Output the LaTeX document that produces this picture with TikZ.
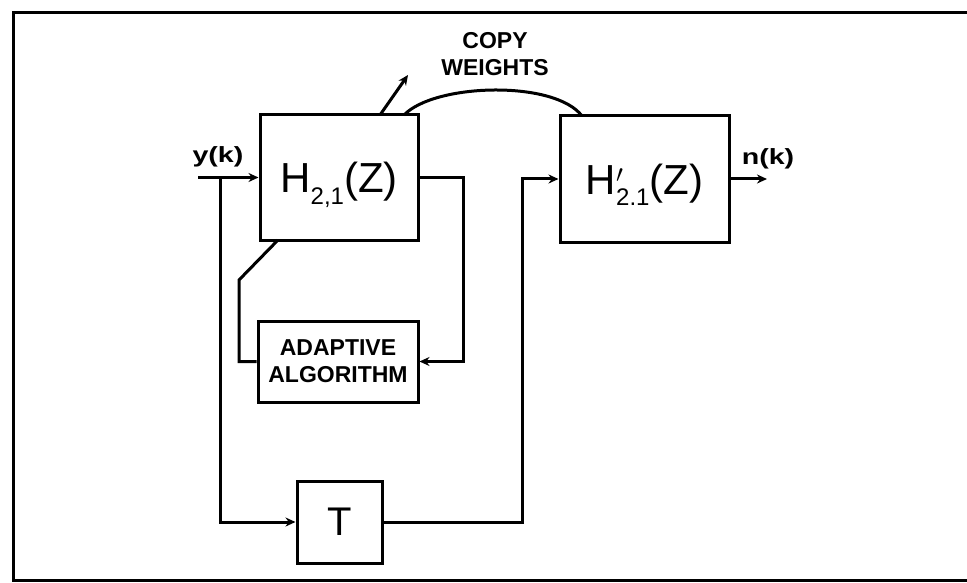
\documentclass[tikz,border=0pt]{standalone}
\usepackage{fontspec}
\usepackage{graphicx}
\setmainfont{Liberation Sans}
\usetikzlibrary{arrows.meta}
\tikzset{
  blk/.style={draw, line width=3pt, inner sep=0pt, align=center},
  wire/.style={line width=3pt, line join=miter},
  arr/.style={wire, -{Stealth[length=10pt,width=9pt]}},
  biglbl/.style={font=\fontsize{42}{42}\selectfont},
  boldlbl/.style={font=\fontsize{23}{27}\selectfont\bfseries},
  smalllbl/.style={font=\fontsize{22}{22}\selectfont\bfseries},
}
\newcommand{\subtxt}[1]{\raisebox{-0.28em}{\fontsize{24}{24}\selectfont #1}}
\newcommand{\wide}[1]{\scalebox{1.3}[1]{#1}}
\newcommand{\lowered}[1]{\raisebox{-15pt}[0pt][0pt]{#1}}
\begin{document}
\begin{tikzpicture}[x=1pt,y=-1pt]
\useasboundingbox (0,0) rectangle (967,583);
% frame
\draw[line width=3pt] (967,13) -- (13,13) -- (13,580) -- (967,580);
% blocks
\node[blk, biglbl, minimum width=158pt, minimum height=125pt] (H) at (339,177.5) {\lowered{H\subtxt{2,1}(Z)}};
\node[blk, biglbl, minimum width=169pt, minimum height=126pt] (Hp) at (644.5,179) {\lowered{H\rlap{\raisebox{0.05em}{$'$}}\subtxt{2.1}(Z)}};
\node[blk, boldlbl, minimum width=160pt, minimum height=81pt] (alg) at (338,361.5) {ADAPTIVE\\ALGORITHM};
\node[blk, minimum width=85pt, minimum height=82pt, font=\fontsize{40}{40}\selectfont] (T) at (339.5,522) {T};
% coordinates
\coordinate (in) at (198,177.5);
\coordinate (br) at (220,177.5);
\coordinate (out) at (767,179);
\coordinate (hb) at (278,240);
\coordinate (aw) at (239,280);
\coordinate (up1) at (380,115);
\coordinate (up2) at (408,75);
\coordinate (c1) at (404,115);
\coordinate (c2) at (582,116);
% labels
\node[smalllbl] (yk) at (218,157) {\wide{y(k)}};
\node[smalllbl] (nk) at (768,159) {\wide{n(k)}};
\node[boldlbl, align=center] (cw) at (495,54) {COPY\\WEIGHTS};
% connectors
\draw[arr] (in) -- (H.west);
\draw[arr] (br) |- (T.west);
\draw[arr] (T.east) -| (522,179) -- (Hp.west);
\draw[arr] (Hp.east) -- (out);
\draw[arr] (H.east) -| (463,361.5) -- (alg.east);
\draw[wire] (alg.west) -| (aw) -- (hb);
\draw[arr] (up1) -- (up2);
\draw[wire] (c1) .. controls (435,83) and (555,80) .. (c2);
\end{tikzpicture}
\end{document}
